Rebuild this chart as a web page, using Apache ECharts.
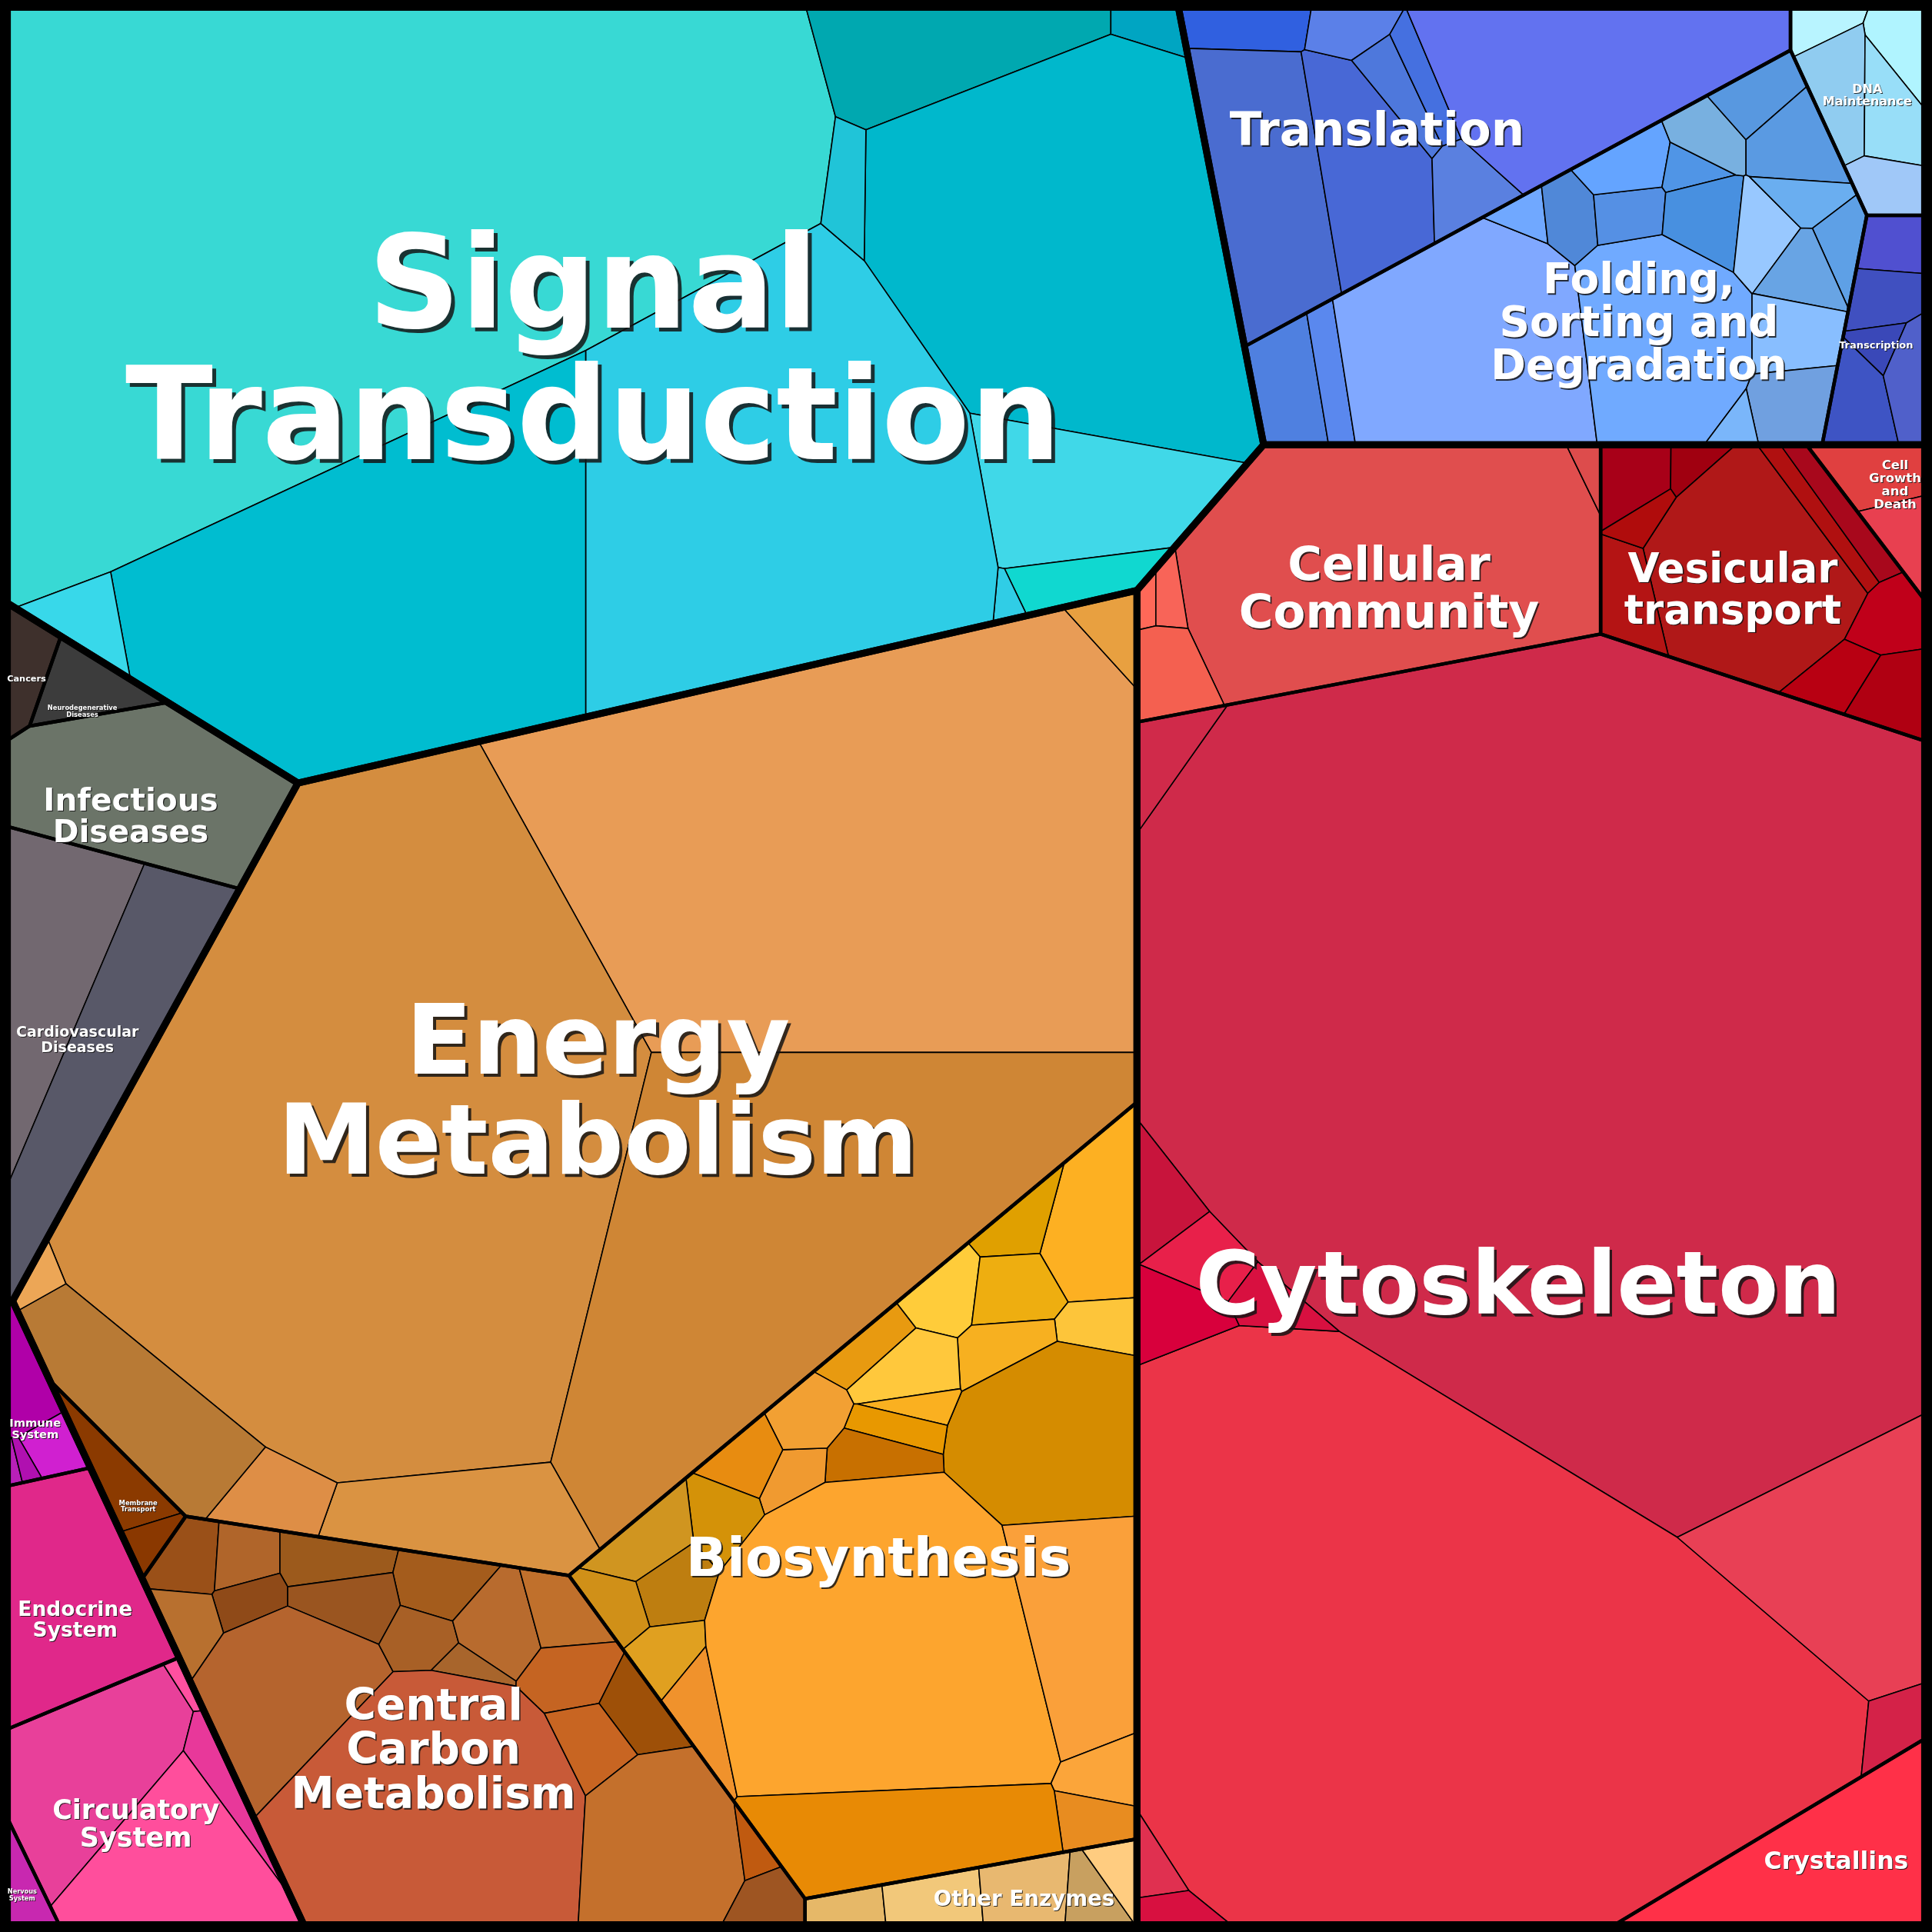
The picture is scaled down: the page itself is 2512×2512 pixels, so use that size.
<!DOCTYPE html>
<html><head><meta charset="utf-8">
<script src="https://cdn.jsdelivr.net/npm/echarts@6/dist/echarts.min.js"></script>
<style>html,body{margin:0;padding:0;background:#000}#chart{width:2512px;height:2512px}</style>
</head><body><div id="chart"></div>
<script>
// ================= DATA =================
const topCategories = ['Environmental Information Processing','Genetic Information Processing','Cellular Processes','Metabolism','Human Diseases','Organismal Systems'];
const pathwayNames = ['Signal Transduction','Translation','Folding, Sorting and Degradation','DNA Maintenance','Transcription','Cellular Community','Vesicular transport','Cell Growth and Death','Cytoskeleton','Crystallins','Energy Metabolism','Biosynthesis','Central Carbon Metabolism','Other Enzymes','Membrane Transport','Cancers','Neurodegenerative Diseases','Infectious Diseases','Cardiovascular Diseases','Immune System','Endocrine System','Circulatory System','Nervous System'];
const pathwayCategory = [0,1,1,1,1,2,2,2,2,2,3,3,3,3,3,4,4,4,4,5,5,5,5];
const pathwayLabels = ['Signal\nTransduction','Translation','Folding,\nSorting and\nDegradation','DNA\nMaintenance','Transcription','Cellular\nCommunity','Vesicular\ntransport','Cell\nGrowth\nand\nDeath','Cytoskeleton','Crystallins','Energy\nMetabolism','Biosynthesis','Central\nCarbon\nMetabolism','Other Enzymes','Membrane\nTransport','Cancers','Neurodegenerative\nDiseases','Infectious\nDiseases','Cardiovascular\nDiseases','Immune\nSystem','Endocrine\nSystem','Circulatory\nSystem','Nervous\nSystem'];

// protein abundances (relative units) of the proteins in each pathway
const signalTransduction = [2237,153,18,795,180,40,7,971,30,860,36];
const translation = [35,195,130,25,25,20,35,290];
const foldingSorting = [50,25,310,12,25,200,22,28,12,35,25,28,40,28,20,20,27,40,38,10];
const dnaMaintenance = [16,25,40,35,25];
const transcription = [23,26,11,34,26];
const cellularCommunity = [581,8,6,12,40];
const vesicularTransport = [30,12,232,36,12,20,25,30,25,32];
const cellGrowthDeath = [37,23];
const cytoskeleton = [3643,33,2084,259,25,35,35,40,25,15,15];
const crystallins = [188];
const energyMetabolism = [1463,24,1934,971,140,45,157,11];
const biosynthesis = [90,25,30,35,25,28,35,22,190,12,18,28,18,30,25,30,35,30,22,25,30,600,160,27,24,170];
const centralCarbon = [27,23,30,32,18,33,25,153,24,40,10,30,430,35,30,30,160,10,22];
const otherEnzymes = [17,31,37,20,16];
const membraneTransport = [35,12];
const cancers = [29];
const neurodegenerative = [38];
const infectious = [237];
const cardiovascular = [161,206];
const immuneSystem = [28,18,3,4];
const endocrineSystem = [193];
const circulatorySystem = [165,5,25,155];
const nervousSystem = [18];

const pathwayLeaves = [signalTransduction,translation,foldingSorting,dnaMaintenance,transcription,cellularCommunity,vesicularTransport,cellGrowthDeath,cytoskeleton,crystallins,energyMetabolism,biosynthesis,centralCarbon,otherEnzymes,membraneTransport,cancers,neurodegenerative,infectious,cardiovascular,immuneSystem,endocrineSystem,circulatorySystem,nervousSystem];

// ================= LAYOUT (power-diagram sites, reference units 0..1568) =================
const layoutBox = [6,1562];
const categorySites = [[478,286],[1299,126],[1299,1000],[642,1000],[190,751],[190,1211]];
const pathwaySites = [[478,286],[1150,100],[1226,240],[1529,100],[1529,299],[1110,470],[1422,470],[1514,400],[1224,1070],[1494,1520],[470,900],[720,1200],[386,1444],[764,1444],[115,1255],[22,560],[65,575],[77,645],[18,865],[30,1150],[63,1300],[134,1470],[21,1525]];
// leaf seeds: 'c' = target cell centroid, 's' = power-diagram site
const leafSeedMode = ['s','c','c','c','c','c','c','c','s','c','s','c','s','c','c','c','c','c','s','c','c','c','c'];
const leafSeeds = [
 [[300,150],[780,20],[911,20],[853,207],[817,407],[827,487],[800,500],[473,470],[700,205],[449,470],[422,475]],
 [[1005,22],[1018,150],[1100,140],[1090,28],[1130,70],[1160,60],[1190,145],[1290,45]],
 [[1035,320],[1065,315],[1160,300],[1200,200],[1245,195],[1320,280],[1305,190],[1300,145],[1355,155],[1365,195],[1375,115],[1420,75],[1455,115],[1412,200],[1452,160],[1490,210],[1450,228],[1440,280],[1445,330],[1400,340]],
 [[1475,20],[1540,35],[1490,70],[1535,90],[1530,150]],
 [[1530,193],[1525,240],[1520,278],[1505,320],[1548,305]],
 [[1130,460],[1288,383],[926,490],[945,490],[940,550]],
 [[1325,385],[1370,375],[1415,460],[1318,478],[1330,415],[1465,415],[1490,410],[1530,500],[1490,550],[1535,565]],
 [[1530,385],[1548,440]],
 [[1330,800],[990,560],[995,1350],[1380,900],[1545,1405],[935,1110],[965,1150],[940,1210],[1005,1180],[925,1395],[930,1430]],
 [[1477,1510]],
 [[673,696],[871,516],[270,920],[673,1019],[300,1230],[143,1174],[95,1134],[30,1018]],
 [[870,1020],[805,1015],[755,1060],[810,1065],[870,1115],[805,1120],[735,1125],[700,1100],[850,1195],[735,1160],[730,1190],[715,1210],[655,1210],[660,1160],[610,1190],[590,1235],[520,1250],[545,1290],[500,1300],[545,1350],[575,1390],[720,1340],[865,1320],[893,1430],[885,1475],[735,1490]],
 [[160,1262],[205,1265],[280,1265],[360,1285],[215,1302],[285,1302],[155,1320],[250,1385],[345,1335],[400,1320],[372,1362],[455,1305],[350,1480],[460,1365],[510,1390],[470,1420],[525,1490],[597,1480],[620,1540]],
 [[685,1550],[755,1543],[828,1537],[870,1540],[905,1515]],
 [[105,1190],[125,1255]],
 [[22,560]],[[70,575]],[[110,650]],
 [[40,800],[134,840]],
 [[22,1130],[45,1180],[12,1195],[26,1200]],
 [[60,1300]],
 [[70,1440],[150,1370],[175,1450],[140,1515]],
 [[20,1530]]
];

// ================= STYLES =================
const leafColors = [
 ['#38D9D4','#00A8B0','#00A5C2','#00B8CC','#40D8E8','#10D8D0','#30CDE6','#2ECDE6','#20C4D8','#00BDD0','#38D8EA'],
 ['#3060E0','#4A6CD0','#4868D6','#5B80E8','#4E78DC','#4570E0','#5A80E0','#6272F0'],
 ['#4F80E0','#5A88EE','#80A8FF','#70A8FF','#5088D8','#70AAFF','#5590E4','#64A4FF','#5095E6','#4890E0','#78B0E0','#5898E0','#5A9AE2','#98C8FF','#6AAEF0','#5EA0E6','#68A4E4','#88BEFF','#70A0E0','#7AB6FA'],
 ['#B8F4FF','#B0F4FF','#90CCF0','#98DEF8','#A0C8F8'],
 ['#5050D0','#4050C0','#3A48B8','#3E54C4','#5060CA'],
 ['#E04E4E','#DD4C4C','#FF6858','#F86458','#F46050'],
 ['#A80018','#A00010','#B01818','#B41414','#B00C0C','#B01010','#A8081C','#C0001A','#B80012','#B00012'],
 ['#E04040','#E84050'],
 ['#CF2A4A','#D02A4A','#EB3448','#E84055','#D42248','#C8143C','#E8204A','#D8003C','#D81040','#E03050','#D81040'],
 ['#FF3048'],
 ['#E89C56','#E8A040','#D48D3F','#CF8635','#DA9342','#DE8E46','#B87A35','#ECA656'],
 ['#FDB022','#E0A000','#FFCC3A','#EEAE10','#FDC53A','#F7B020','#FFC83C','#E89A10','#D58C00','#FAB020','#E89800','#C87000','#F09A30','#F2A033','#E88C10','#D49208','#D09520','#BE7E10','#D09018','#E0A020','#F0922C','#FDA52E','#FAA03A','#FBA53A','#E88C20','#E88A05'],
 ['#9A5018','#B0652A','#9C5A1C','#A45C1C','#8F4A18','#9A5520','#B8702F','#B5642E','#A86026','#B86B2E','#A8652C','#C0702C','#C85A38','#C56422','#9E5008','#C86522','#C4702C','#C05A10','#9E5522'],
 ['#E6B868','#F2C87A','#E8B870','#C8A060','#FFCC80'],
 ['#8B3A00','#8A3800'],
 ['#3E302C'],['#3C3C3C'],['#6B7468'],
 ['#726870','#585868'],
 ['#B000A8','#D020D0','#B820B8','#B010B0'],
 ['#E0288A'],
 ['#E8409A','#FF50A0','#E8389A','#FF4E9C'],
 ['#C828B0']
];
const labelFontPx = [167,61,55,16,13,61,53,16.5,114,31.5,127,70,56.5,27.7,8.4,11.3,8.3,40.6,19,14.7,26.5,35,8.2];
const labelShiftY = 7;
const labelNudge = [[0,3],[-39,2],[28,13],[-2,-8],[-6,-3],[15,11],[-22,5],[8,-16],[-3,-3],[12,-7],[-7,0],[-36,-10],[-14,2],[19,-2],[10,5],[0,3],[-3,12],[-13,15],[-6,19],[0,5],[2,11],[-3,4],[-2,-2]];

// ================= POWER-DIAGRAM VORONOI TREEMAP =================
function polyArea(p){let s=0;for(let i=0;i<p.length;i++){const a=p[i],b=p[(i+1)%p.length];s+=a.x*b.y-b.x*a.y;}return s/2;}
function polyCentroid(p){let s=0,cx=0,cy=0;for(let i=0;i<p.length;i++){const a=p[i],b=p[(i+1)%p.length];const cr=a.x*b.y-b.x*a.y;s+=cr;cx+=(a.x+b.x)*cr;cy+=(a.y+b.y)*cr;}
  if(Math.abs(s)<1e-9){let mx=0,my=0;p.forEach(q=>{mx+=q.x;my+=q.y;});return{x:mx/p.length,y:my/p.length};}
  return{x:cx/(3*s),y:cy/(3*s)};}
function insidePoly(poly,pt){let sign=0;for(let i=0;i<poly.length;i++){const a=poly[i],b=poly[(i+1)%poly.length];const cr=(b.x-a.x)*(pt.y-a.y)-(b.y-a.y)*(pt.x-a.x);if(Math.abs(cr)<1e-9)continue;const s=cr>0?1:-1;if(sign===0)sign=s;else if(s!==sign)return false;}return true;}
function clip(poly,a,b,c,label){const out=[];const n=poly.length;
  for(let k=0;k<n;k++){const P=poly[k],Q=poly[(k+1)%n];const fp=a*P.x+b*P.y-c,fq=a*Q.x+b*Q.y-c;
    if(fp<=0){out.push({x:P.x,y:P.y,e:P.e});if(fq>0){const t=fp/(fp-fq);out.push({x:P.x+t*(Q.x-P.x),y:P.y+t*(Q.y-P.y),e:label});}}
    else if(fq<=0){const t=fp/(fp-fq);out.push({x:P.x+t*(Q.x-P.x),y:P.y+t*(Q.y-P.y),e:P.e});}}
  return out;}
function computeCells(parent,S,W){const n=S.length,cells=[];
  for(let i=0;i<n;i++){let poly=parent.map(p=>({x:p.x,y:p.y,e:-1}));
    for(let j=0;j<n&&poly.length>=3;j++){if(j===i)continue;
      const a=2*(S[j].x-S[i].x),b=2*(S[j].y-S[i].y);if(Math.abs(a)+Math.abs(b)<1e-9)continue;
      const c=S[j].x*S[j].x+S[j].y*S[j].y-S[i].x*S[i].x-S[i].y*S[i].y-W[j]+W[i];
      poly=clip(poly,a,b,c,j);}
    cells.push(poly.length>=3?poly:[]);}
  return cells;}
function areaErr(cells,T){let e=0;for(let i=0;i<T.length;i++){const a=cells[i].length>=3?Math.abs(polyArea(cells[i])):0;e+=Math.abs(T[i]-a);}return e;}
function solveWeights(parent,S,T,W,iters){const n=S.length;const emptyCount=new Array(n).fill(0);
  let bestErr=Infinity,bestW=W.slice();
  for(let it=0;it<iters;it++){const cells=computeCells(parent,S,W);const newW=W.slice();let maxRel=0,err=0;
    for(let i=0;i<n;i++){const c=cells[i];const a=c.length>=3?Math.abs(polyArea(c)):0;let D=0;
      for(let k=0;k<c.length;k++){const e=c[k].e;if(e>=0){const q=c[(k+1)%c.length];const L=Math.hypot(q.x-c[k].x,q.y-c[k].y);const d=Math.hypot(S[e].x-S[i].x,S[e].y-S[i].y);if(d>1e-9)D+=L/(2*d);}}
      if(a<1e-6){emptyCount[i]++;let m=-Infinity;for(let j=0;j<n;j++){if(j===i)continue;const d2=(S[j].x-S[i].x)**2+(S[j].y-S[i].y)**2;m=Math.max(m,W[j]-d2);}
        newW[i]=Math.max(W[i],m+0.15*T[i]*Math.pow(2,Math.min(emptyCount[i]-1,6)));}
      else{emptyCount[i]=0;if(D>1e-9)newW[i]=W[i]+0.5*(T[i]-a)/D;}
      maxRel=Math.max(maxRel,Math.abs(T[i]-a)/T[i]);err+=Math.abs(T[i]-a);}
    if(err<bestErr){bestErr=err;bestW=W.slice();}
    if(maxRel<0.001)return;
    let bad=false;for(let i=0;i<n;i++)if(!isFinite(newW[i]))bad=true;
    if(bad)break;
    for(let i=0;i<n;i++)W[i]=newW[i];}
  const cells=computeCells(parent,S,W);
  if(areaErr(cells,T)>bestErr)for(let i=0;i<n;i++)W[i]=bestW[i];
}
function layoutScore(cells,H,T){let e=0;for(let i=0;i<T.length;i++){if(cells[i].length<3){e+=20;continue;}
  const a=Math.abs(polyArea(cells[i]));const c=polyCentroid(cells[i]);e+=Math.hypot(H[i].x-c.x,H[i].y-c.y)/Math.sqrt(T[i])+5*Math.abs(a-T[i])/T[i];}return e;}
function layoutLevel(parent,seeds,values,mode){const n=values.length;
  if(n===1)return[parent.map(p=>({x:p.x,y:p.y}))];
  const A=Math.abs(polyArea(parent));const sum=values.reduce((s,v)=>s+v,0);const T=values.map(v=>A*v/sum);
  const H=seeds.map(h=>({x:h[0],y:h[1]}));let W=new Array(n).fill(0);
  if(mode==='s'){const S=H.map(h=>({x:h.x,y:h.y}));solveWeights(parent,S,T,W,3000);return computeCells(parent,S,W).map(c=>c.map(p=>({x:p.x,y:p.y})));}
  const pc=polyCentroid(parent);
  let S=H.map(h=>{let s={x:h.x,y:h.y};let k=0;while(!insidePoly(parent,s)&&k<40){s={x:pc.x+0.9*(s.x-pc.x),y:pc.y+0.9*(s.y-pc.y)};k++;}return s;});
  solveWeights(parent,S,T,W,800);let cells=computeCells(parent,S,W);let score=layoutScore(cells,H,T);
  let step=0.8;
  for(let r=0;r<14&&step>0.05;r++){
    const S2=S.map(s=>({x:s.x,y:s.y}));const W2=W.slice();
    for(let i=0;i<n;i++){if(cells[i].length<3||!insidePoly(parent,H[i]))continue;const c=polyCentroid(cells[i]);
      let dx=H[i].x-c.x,dy=H[i].y-c.y;const lim=0.3*Math.sqrt(T[i]);const m=Math.hypot(dx,dy);if(m>lim){dx*=lim/m;dy*=lim/m;}
      const ns={x:S[i].x+step*dx,y:S[i].y+step*dy};if(insidePoly(parent,ns))S2[i]=ns;}
    solveWeights(parent,S2,T,W2,600);const cells2=computeCells(parent,S2,W2);const score2=layoutScore(cells2,H,T);
    if(score2<score){S=S2;W=W2;cells=cells2;score=score2;}else{step*=0.5;}}
  return cells.map(c=>c.map(p=>({x:p.x,y:p.y})));}

const B0=layoutBox[0],B1=layoutBox[1];
const box=[{x:B0,y:B0},{x:B1,y:B0},{x:B1,y:B1},{x:B0,y:B1}];
const pathwayTotals=pathwayLeaves.map(a=>a.reduce((s,v)=>s+v,0));
const categoryTotals=topCategories.map((_,c)=>pathwayTotals.reduce((s,v,p)=>s+(pathwayCategory[p]===c?v:0),0));
const categoryCells=layoutLevel(box,categorySites,categoryTotals,'s');
const pathwayCells=new Array(pathwayNames.length);
topCategories.forEach((_,c)=>{const idx=pathwayNames.map((_,p)=>p).filter(p=>pathwayCategory[p]===c);
  const cells=layoutLevel(categoryCells[c],idx.map(p=>pathwaySites[p]),idx.map(p=>pathwayTotals[p]),'s');
  idx.forEach((p,k)=>{pathwayCells[p]=cells[k];});});
const leafItems=[];
pathwayNames.forEach((_,p)=>{const cells=layoutLevel(pathwayCells[p],leafSeeds[p],pathwayLeaves[p],leafSeedMode[p]);
  cells.forEach((poly,k)=>{if(poly.length>=3)leafItems.push({poly,color:leafColors[p][k]});});});
const pathwayItems=pathwayNames.map((n,p)=>{const c=polyCentroid(pathwayCells[p]);return{poly:pathwayCells[p],label:pathwayLabels[p],fs:labelFontPx[p],cx:c.x+labelNudge[p][0],cy:c.y+labelShiftY+labelNudge[p][1]};});

// ================= RENDER =================
const chart=echarts.init(document.getElementById('chart'),null,{renderer:'canvas'});
function polyShape(poly,api){return poly.map(p=>api.coord([p.x,p.y]));}
chart.setOption({
  backgroundColor:'#000',animation:false,
  grid:{left:0,right:0,top:0,bottom:0},
  xAxis:{type:'value',min:0,max:1568,show:false},
  yAxis:{type:'value',min:0,max:1568,inverse:true,show:false},
  series:[
    {type:'custom',silent:true,data:leafItems.map((l,i)=>[i]),
     renderItem:(params,api)=>{const L=leafItems[params.dataIndex];return{type:'polygon',shape:{points:polyShape(L.poly,api)},style:{fill:L.color,stroke:'#000',lineWidth:1.6,lineJoin:'round'}};}},
    {type:'custom',silent:true,data:pathwayItems.map((l,i)=>[i]),
     renderItem:(params,api)=>{const P=pathwayItems[params.dataIndex];return{type:'polygon',shape:{points:polyShape(P.poly,api)},style:{fill:'none',stroke:'#000',lineWidth:4.5,lineJoin:'round'}};}},
    {type:'custom',silent:true,data:categoryCells.map((l,i)=>[i]),
     renderItem:(params,api)=>{return{type:'polygon',shape:{points:polyShape(categoryCells[params.dataIndex],api)},style:{fill:'none',stroke:'#000',lineWidth:9,lineJoin:'round'}};}},
    {type:'custom',silent:true,data:pathwayItems.map((l,i)=>[i]),
     renderItem:(params,api)=>{const P=pathwayItems[params.dataIndex];const pt=api.coord([P.cx,P.cy]);const off=Math.max(1,P.fs*0.03);
       const base={text:P.label,fontSize:P.fs,fontFamily:'"DejaVu Sans", sans-serif',fontWeight:'bold',align:'center',verticalAlign:'middle',lineHeight:P.fs*1.02};
       return{type:'group',children:[
         {type:'text',style:Object.assign({},base,{x:pt[0]+off,y:pt[1]+off,fill:'rgba(20,20,20,0.85)'})},
         {type:'text',style:Object.assign({},base,{x:pt[0],y:pt[1],fill:'#ffffff'})}]};}}
  ]
});
</script></body></html>
